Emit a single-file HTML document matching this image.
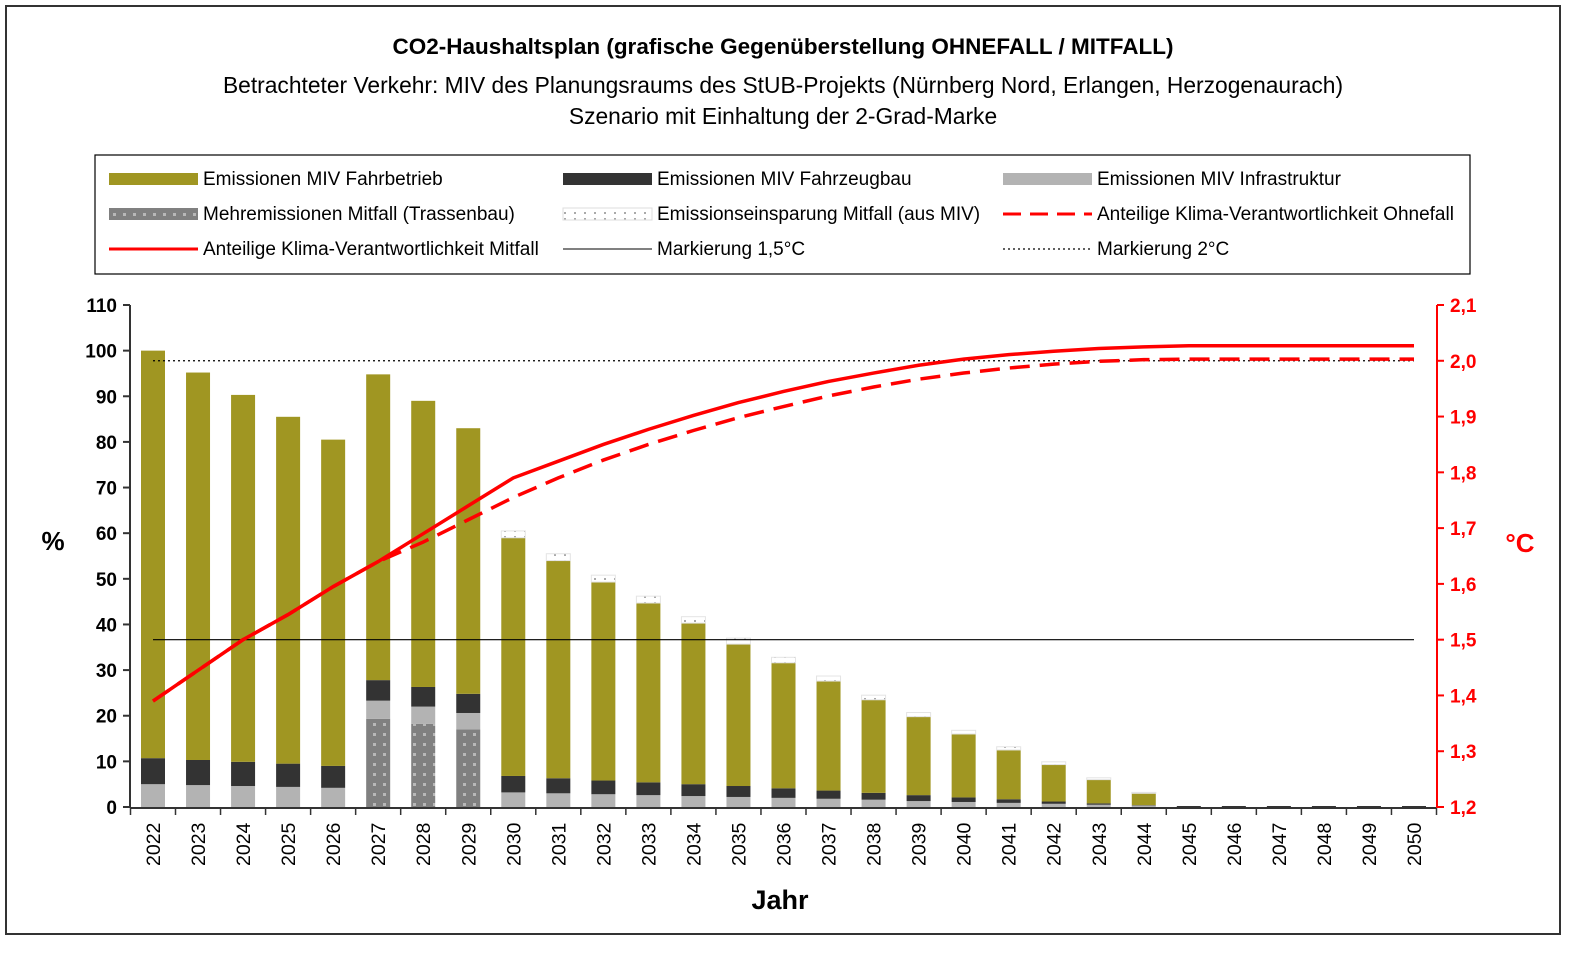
<!DOCTYPE html>
<html><head><meta charset="utf-8">
<style>
body{margin:0;background:#fff;font-family:"Liberation Sans",sans-serif;}
svg{display:block}
</style></head>
<body>
<svg id="chart" width="1596" height="956" xmlns="http://www.w3.org/2000/svg" font-family="Liberation Sans, sans-serif">
<defs>
<pattern id="dots" width="10" height="10" patternUnits="userSpaceOnUse">
<rect width="10" height="10" fill="#808080"/><rect x="3" y="3" width="3" height="3" fill="#b8b8b8"/>
</pattern>
<pattern id="wdots" width="10" height="6" patternUnits="userSpaceOnUse">
<rect width="10" height="6" fill="#fff"/><rect x="4" y="2" width="2" height="2" fill="#aaa"/>
</pattern>
</defs>
<rect x="6" y="6" width="1554" height="928" fill="#fff" stroke="#333" stroke-width="2"/>
<text x="783" y="54" text-anchor="middle" font-size="22.5" font-weight="bold">CO2-Haushaltsplan (grafische Gegenüberstellung OHNEFALL / MITFALL)</text>
<text x="783" y="93" text-anchor="middle" font-size="22.8">Betrachteter Verkehr: MIV des Planungsraums des StUB-Projekts (Nürnberg Nord, Erlangen, Herzogenaurach)</text>
<text x="783" y="124" text-anchor="middle" font-size="22.8">Szenario mit Einhaltung der 2-Grad-Marke</text>
<g>
<rect x="95" y="155" width="1375" height="119" fill="#fff" stroke="#000" stroke-width="1.2"/>
<rect x="109" y="173" width="89" height="12" fill="#a09622"/><text x="203" y="185" font-size="19">Emissionen MIV Fahrbetrieb</text>
<rect x="563" y="173" width="89" height="12" fill="#333"/><text x="657" y="185" font-size="19">Emissionen MIV Fahrzeugbau</text>
<rect x="1003" y="173" width="89" height="12" fill="#b3b3b3"/><text x="1097" y="185" font-size="19">Emissionen MIV Infrastruktur</text>
<rect x="109" y="208" width="89" height="12" fill="url(#dots)"/><text x="203" y="220" font-size="19">Mehremissionen Mitfall (Trassenbau)</text>
<rect x="563" y="208" width="89" height="12" fill="url(#wdots)" stroke="#ddd"/><text x="657" y="220" font-size="19">Emissionseinsparung Mitfall (aus MIV)</text>
<line x1="1003" y1="214" x2="1092" y2="214" stroke="#f00" stroke-width="3" stroke-dasharray="18,9"/><text x="1097" y="220" font-size="19">Anteilige Klima-Verantwortlichkeit Ohnefall</text>
<line x1="109" y1="249" x2="198" y2="249" stroke="#f00" stroke-width="3"/><text x="203" y="255" font-size="19">Anteilige Klima-Verantwortlichkeit Mitfall</text>
<line x1="563" y1="249" x2="652" y2="249" stroke="#000" stroke-width="1"/><text x="657" y="255" font-size="19">Markierung 1,5°C</text>
<line x1="1003" y1="249" x2="1092" y2="249" stroke="#000" stroke-width="1.2" stroke-dasharray="2,3"/><text x="1097" y="255" font-size="19">Markierung 2°C</text>
</g>
<g id="plot"></g>
<text x="53" y="550" text-anchor="middle" font-size="26" font-weight="bold">%</text>
<text x="1520" y="552" text-anchor="middle" font-size="26" font-weight="bold" fill="#f00">°C</text>
<text x="780" y="909" text-anchor="middle" font-size="27" font-weight="bold">Jahr</text>
</svg>
<script>
const years=[2022,2023,2024,2025,2026,2027,2028,2029,2030,2031,2032,2033,2034,2035,2036,2037,2038,2039,2040,2041,2042,2043,2044,2045,2046,2047,2048,2049,2050];
const mitfallBau=[0,0,0,0,0,19.3,18.2,17,0,0,0,0,0,0,0,0,0,0,0,0,0,0,0,0,0,0,0,0,0];
const infra=[5,4.8,4.6,4.4,4.2,4,3.8,3.6,3.2,3,2.8,2.6,2.4,2.2,2,1.8,1.6,1.3,1.1,0.9,0.7,0.5,0.3,0,0,0,0,0,0];
const fahrzeugbau=[5.7,5.5,5.3,5.1,4.8,4.5,4.3,4.2,3.6,3.3,3,2.8,2.6,2.4,2.1,1.8,1.5,1.3,1,0.8,0.5,0.3,0.1,0,0,0,0,0,0];
const fahrbetrieb=[89.3,84.9,80.4,76,71.5,67,62.7,58.2,52.2,47.7,43.5,39.3,35.3,31.1,27.5,24,20.4,17.2,13.9,10.8,8.1,5.2,2.6,0,0,0,0,0,0];
const einsparung=[0,0,0,0,0,0,0,0,1.5,1.5,1.5,1.5,1.4,1.3,1.2,1.1,1,0.9,0.8,0.7,0.6,0.4,0.2,0,0,0,0,0,0];
const tempMitfall=[1.39,1.445,1.5,1.545,1.595,1.64,1.69,1.74,1.79,1.82,1.85,1.877,1.902,1.925,1.945,1.963,1.978,1.992,2.003,2.011,2.017,2.022,2.025,2.027,2.027,2.027,2.027,2.027,2.027];
const tempOhnefall=[1.39,1.445,1.5,1.545,1.595,1.64,1.675,1.715,1.755,1.79,1.822,1.85,1.875,1.898,1.918,1.937,1.953,1.967,1.978,1.987,1.994,1.999,2.002,2.003,2.003,2.003,2.003,2.003,2.003];
const yTicks=[0,10,20,30,40,50,60,70,80,90,100,110];
const y2Ticks=["1,2","1,3","1,4","1,5","1,6","1,7","1,8","1,9","2,0","2,1"];
const NS="http://www.w3.org/2000/svg";
const g=document.getElementById('plot');
const x=i=>153+i*(1414-153)/28;
const y=v=>807-v*(502/110);
const y2=t=>807-(t-1.2)*(502/0.9);
function el(tag,a,p){const e=document.createElementNS(NS,tag);for(const k in a)e.setAttribute(k,a[k]);(p||g).appendChild(e);return e;}
years.forEach((yr,i)=>{
  let base=0;const bw=24;
  const segs=[[mitfallBau[i],'url(#dots)','bar-mitfall-trassenbau'],[infra[i],'#b3b3b3','bar-infrastruktur'],[fahrzeugbau[i],'#333333','bar-fahrzeugbau'],[fahrbetrieb[i],'#a09622','bar-fahrbetrieb'],[einsparung[i],'url(#wdots)','bar-einsparung']];
  segs.forEach(s=>{
    if(s[0]<=0)return;
    const r=el('rect',{x:x(i)-bw/2,y:y(base+s[0]),width:bw,height:y(base)-y(base+s[0]),fill:s[1]});
    if(s[2]==='bar-einsparung'){r.setAttribute('stroke','#e4e4e4');r.setAttribute('stroke-width','1');}
    
    
    base+=s[0];
  });
  if(base===0){const r=el('rect',{x:x(i)-bw/2,y:806,width:bw,height:1,fill:'#333'});
    
    }
});
let l=el('line',{x1:153,x2:1414,y1:y2(1.5),y2:y2(1.5),stroke:'#000','stroke-width':1.2});


l=el('line',{x1:153,x2:1414,y1:y2(2.0),y2:y2(2.0),stroke:'#000','stroke-width':1.3,'stroke-dasharray':'2,3'});


let p=el('polyline',{points:tempOhnefall.map((t,i)=>x(i)+','+y2(t)).join(' '),fill:'none',stroke:'#f00','stroke-width':3.5,'stroke-dasharray':'20,10'});


p=el('polyline',{points:tempMitfall.map((t,i)=>x(i)+','+y2(t)).join(' '),fill:'none',stroke:'#f00','stroke-width':3.5});


l=el('line',{x1:130,x2:130,y1:305,y2:808,stroke:'#333','stroke-width':2});


l=el('line',{x1:130,x2:1437,y1:808,y2:808,stroke:'#333','stroke-width':2});


l=el('line',{x1:1437,x2:1437,y1:305,y2:808,stroke:'#f00','stroke-width':2});


yTicks.forEach(v=>{
  el('line',{x1:123,x2:130,y1:y(v),y2:y(v),stroke:'#333','stroke-width':2});
  const t=el('text',{x:117,y:y(v)+7,'text-anchor':'end','font-size':19,'font-weight':'bold'});t.textContent=v;
  
  
});
y2Ticks.forEach((s,i)=>{
  const v=1.2+i*0.1;
  el('line',{x1:1437,x2:1444,y1:y2(v),y2:y2(v),stroke:'#f00','stroke-width':2});
  const t=el('text',{x:1450,y:y2(v)+7,'font-size':19,'font-weight':'bold',fill:'#f00'});t.textContent=s;
  
  
});
years.forEach((yr,i)=>{
  el('line',{x1:x(i)+22.5,x2:x(i)+22.5,y1:808,y2:815,stroke:'#333','stroke-width':1.5});
  const t=el('text',{transform:`translate(${x(i)+7},866) rotate(-90)`,'font-size':19.5});t.textContent=yr;
  
  
});
el('line',{x1:130.5,x2:130.5,y1:808,y2:815,stroke:'#333','stroke-width':1.5});
</script>
</body></html>
